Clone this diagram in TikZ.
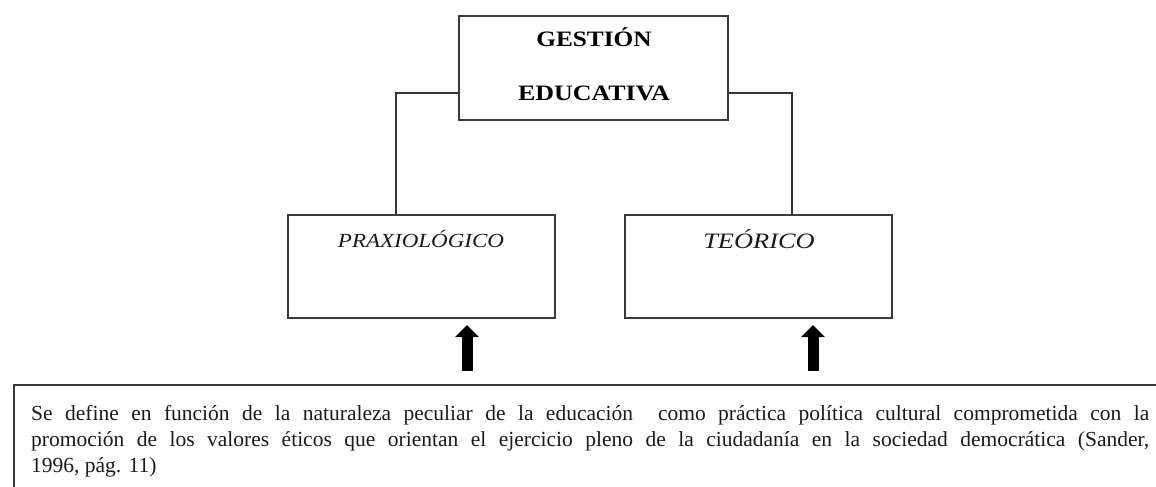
\documentclass[tikz,border=0pt]{standalone}
\usepackage{fontspec}
\setmainfont{Liberation Serif}
\usetikzlibrary{arrows.meta}
\definecolor{boxgray}{HTML}{3A3A3A}
\definecolor{linegray}{HTML}{333333}
\definecolor{textgray}{HTML}{1A1A1A}
\begin{document}
\begin{tikzpicture}[x=1pt,y=-1pt,
  box/.style={draw=boxgray, line width=1.6pt, rectangle, inner sep=0pt},
  link/.style={draw=linegray, line width=1.3pt},
  uparrow/.style={draw=black, line width=11pt, -{Triangle[width=23pt,length=12pt]}},
  titletext/.style={inner sep=0pt, font=\fontsize{22}{26}\selectfont\bfseries},
  labeltext/.style={inner sep=0pt, text=textgray, font=\fontsize{20}{24}\selectfont\itshape},
  bodytext/.style={inner sep=0pt, anchor=base west, text=textgray, font=\fontsize{21.5}{26}\selectfont}]
\useasboundingbox (0,0) rectangle (1156,487);
\clip (0,0) rectangle (1156,487);
% boxes
\node[box, minimum width=269pt, minimum height=104pt] (top) at (593.5,68) {};
\node[box, minimum width=267pt, minimum height=103pt] (prax) at (421.5,266.5) {};
\node[box, minimum width=267pt, minimum height=103pt] (teo) at (758.5,266.5) {};
\node[box, anchor=north west, minimum width=1200pt, minimum height=160pt] (def) at (13,384) {};
% texts
\node[titletext, anchor=base] (t1) at (594,47) {\scalebox{1.15}[1]{GESTIÓN}};
\node[titletext, anchor=base] (t2) at (594,100) {\scalebox{1.18}[1]{EDUCATIVA}};
\node[labeltext, anchor=base] (l1) at (421,247) {\scalebox{1.15}[1]{PRAXIOLÓGICO}};
\node[labeltext, anchor=base, font=\fontsize{22}{26}\selectfont\itshape] (l2) at (759,248) {\scalebox{1.2}[1]{TEÓRICO}};
\node[bodytext] (d1) at (31,420) {\makebox[1118pt][s]{Se define en función de la naturaleza peculiar de la educación~ como práctica política cultural comprometida con la}};
\node[bodytext] (d2) at (31,446) {\makebox[1118pt][s]{promoción de los valores éticos que orientan el ejercicio pleno de la ciudadanía en la sociedad democrática (Sander,}};
\node[bodytext] (d3) at (31,472) {1996, pág. 11)};
% connectors
\draw[link] ([yshift=-25pt]top.west) -| ([xshift=-25.5pt]prax.north);
\draw[link] ([yshift=-25pt]top.east) -| ([xshift=33.5pt]teo.north);
% arrows
\coordinate (a1s) at (467,371);
\coordinate (a1e) at (467,325);
\coordinate (a2s) at (813,371);
\coordinate (a2e) at (813,325);
\draw[uparrow] (a1s) -- (a1e);
\draw[uparrow] (a2s) -- (a2e);
\end{tikzpicture}
\end{document}
